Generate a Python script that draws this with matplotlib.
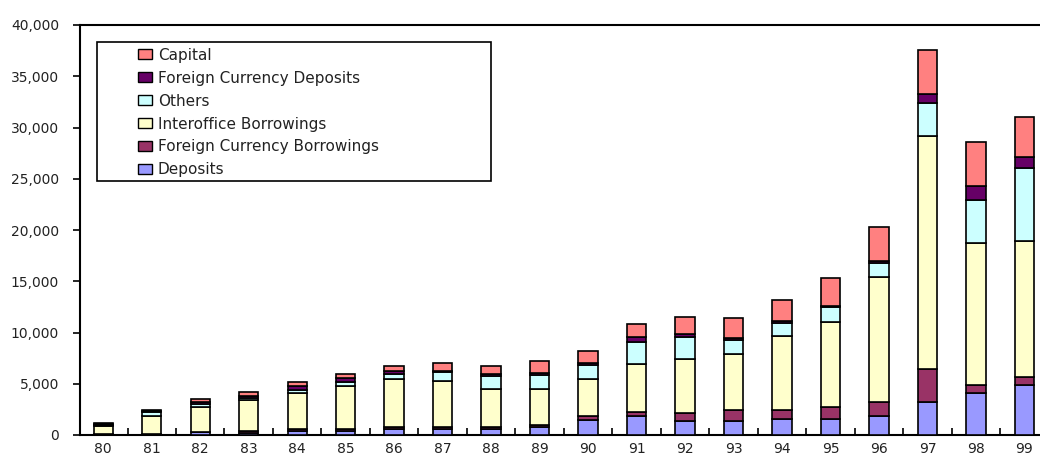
import numpy as np
import matplotlib
matplotlib.use('Agg')
import matplotlib.pyplot as plt
from matplotlib.patches import Rectangle, Patch
from matplotlib.ticker import FuncFormatter, FixedLocator

years = ['80','81','82','83','84','85','86','87','88','89',
         '90','91','92','93','94','95','96','97','98','99']

# stacked from the bottom up
deposits     = [20, 20, 250, 150, 350, 350, 550, 550, 550, 750,
                1500, 1840, 1390, 1390, 1520, 1520, 1840, 3230, 4140, 4920]
fc_borrow    = [30, 30, 50, 250, 200, 200, 250, 250, 250, 200,
                330, 420, 710, 1040, 910, 1230, 1390, 3240, 780, 740]
interoffice  = [850, 1850, 2400, 3000, 3590, 4230, 4700, 4470, 3730, 3540,
                3670, 4690, 5270, 5430, 7270, 8240, 12220, 22700, 13830, 13260]
others       = [100, 350, 300, 200, 250, 420, 500, 870, 1190, 1330,
                1290, 2140, 2170, 1360, 1230, 1520, 1360, 3230, 4210, 7170]
fc_deposits  = [100, 100, 250, 250, 350, 350, 250, 100, 200, 200,
                200, 510, 320, 200, 200, 60, 200, 900, 1360, 1040]
capital      = [100, 100, 300, 300, 430, 450, 450, 760, 770, 1160,
                1250, 1250, 1650, 1950, 2060, 2700, 3300, 4270, 4230, 3910]

series = [('Deposits', deposits, '#9999FF'),
          ('Foreign Currency Borrowings', fc_borrow, '#993366'),
          ('Interoffice Borrowings', interoffice, '#FFFFCC'),
          ('Others', others, '#CCFFFF'),
          ('Foreign Currency Deposits', fc_deposits, '#660066'),
          ('Capital', capital, '#FF8080')]

plt.rcParams['font.family'] = ['DejaVu Sans']

W, H = 1040, 453
fig = plt.figure(figsize=(W/100, H/100), dpi=100)
ax = fig.add_axes([80/W, (H-435)/H, (W-80)/W, 410/H])

x = np.arange(len(years))
bottom = np.zeros(len(years))
for name, vals, col in series:
    vals = np.array(vals, dtype=float)
    ax.bar(x, vals, width=0.4, bottom=bottom, color=col,
           edgecolor='black', linewidth=1.2, zorder=3)
    bottom += vals

ax.set_xlim(-0.48, 19.32)
ax.set_ylim(0, 40000)
ax.set_yticks(np.arange(0, 40001, 5000))
ax.yaxis.set_major_formatter(FuncFormatter(lambda v, p: '{:,.0f}'.format(v)))
ax.tick_params(axis='y', direction='out', length=5, width=1.2, labelsize=10, pad=10,
               labelcolor='#222222')

ax.set_xticks(x)
ax.set_xticklabels(years)
ax.tick_params(axis='x', which='major', length=0, labelsize=10, pad=5,
               labelcolor='#222222')
ax.xaxis.set_minor_locator(FixedLocator(x[:-1] + 0.5))
ax.tick_params(axis='x', which='minor', direction='in', length=5, width=1.2)

for s in ['left', 'bottom', 'top']:
    ax.spines[s].set_linewidth(1.5)
ax.spines['right'].set_visible(False)

# legend frame
fig.patches.append(Rectangle((97/W, 1-181/H), (491-97)/W, (181-42)/H,
                             transform=fig.transFigure, facecolor='white',
                             edgecolor='black', linewidth=1.2, zorder=5))
handles = [Patch(facecolor=col, edgecolor='black', linewidth=1.0, label=name)
           for name, vals, col in series[::-1]]
leg = fig.legend(handles=handles, loc='upper left', bbox_to_anchor=(127/W, 1-37/H),
                 frameon=False, fontsize=11, handlelength=0.92, handleheight=0.62,
                 handletextpad=0.4, labelspacing=0.52, borderpad=0.2)
for t in leg.get_texts():
    t.set_color('#222222')
leg.set_zorder(6)

fig.savefig('out.png', dpi=100)
